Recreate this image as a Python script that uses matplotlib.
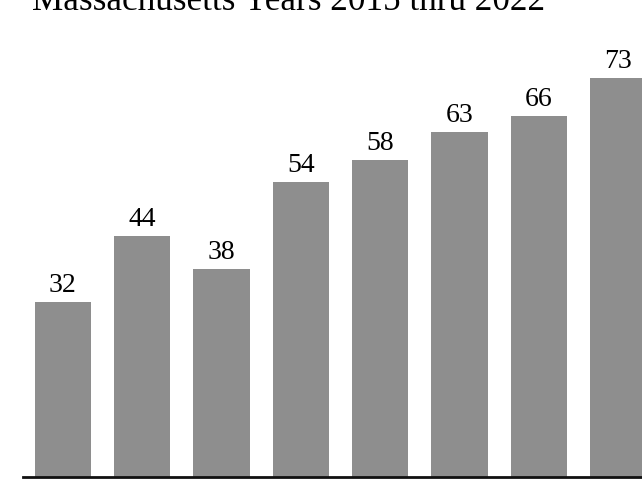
import matplotlib
matplotlib.use("Agg")
import matplotlib.pyplot as plt

years = ["2015", "2016", "2017", "2018", "2019", "2020", "2021", "2022"]
values = [32, 44, 38, 54, 58, 63, 66, 73]
title = "Massachusetts Years 2015 thru 2022"

plt.rcParams["font.family"] = ["Liberation Serif", "DejaVu Serif"]

fig = plt.figure(figsize=(6.42, 4.83), dpi=100)
# bars start at zero right on the black baseline near the bottom edge
ax = fig.add_axes([23 / 642, 6 / 483, 619 / 642, 437.6 / 483])

x = list(range(len(values)))
bars = ax.bar(x, values, width=0.71, color="#8e8e8e", edgecolor="none")
for b, v in zip(bars, values):
    ax.annotate(str(v), (b.get_x() + b.get_width() / 2, v),
                xytext=(0, 7.2), textcoords="offset points",
                ha="center", va="baseline", fontsize=20, color="black")

ax.set_xlim(-0.5, 7.3)
ax.set_ylim(0, 80)
ax.set_xticks([]); ax.set_yticks([])
for side in ["top", "right", "left"]:
    ax.spines[side].set_visible(False)
ax.spines["bottom"].set_linewidth(2.0)
ax.spines["bottom"].set_color("#111111")

fig.text(32 / 642, 1 - 9.5 / 483, title, ha="left", va="baseline",
         fontsize=25.3, color="black")

fig.savefig("out.png", dpi=100, facecolor="white")
